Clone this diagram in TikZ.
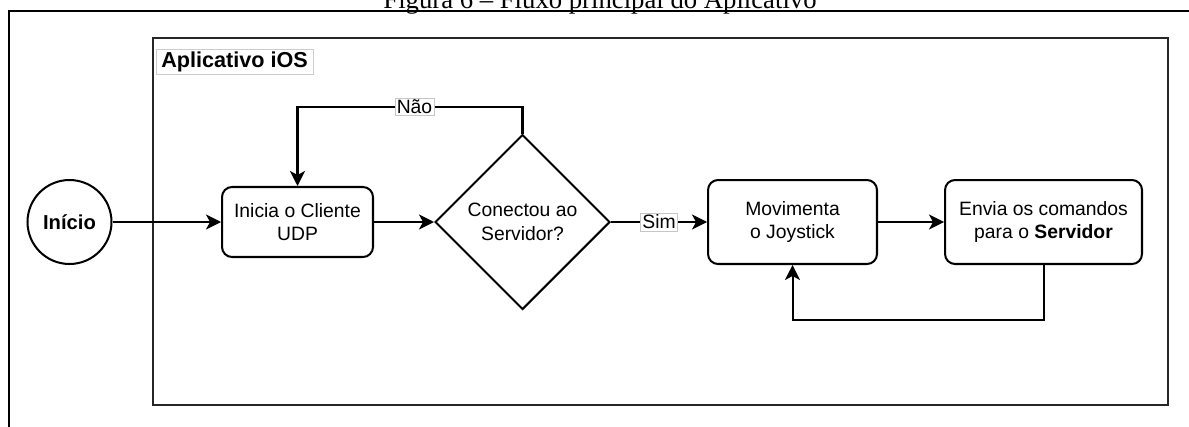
\documentclass[tikz,border=0pt]{standalone}
\usepackage{fontspec}
\setmainfont{Liberation Sans}
\newfontfamily\capfont{Liberation Serif}
\usetikzlibrary{shapes.geometric,arrows.meta}
\begin{document}
\begin{tikzpicture}[x=0.02cm,y=-0.02cm,
  every node/.style={font=\fontsize{11}{13.5}\selectfont, align=center},
  conn/.style={line width=1.15pt, -{Stealth[length=0.3cm,width=0.3cm,inset=0.08cm]}},
  plain/.style={line width=1.15pt},
  procbox/.style={draw, line width=1.15pt, rounded corners=0.2cm, inner sep=0pt},
  lbl/.style={draw=gray!45, line width=0.4pt, fill=white, inner sep=1pt, font=\fontsize{11}{13}\selectfont}
]
\useasboundingbox (0,0) rectangle (1189,426);
\clip (0,0) rectangle (1189,426);
% caption
\node[anchor=base, inner sep=0pt, font=\capfont\fontsize{15.2}{18}\selectfont] (cap) at (600,9) {Figura 6 – Fluxo principal do Aplicativo};
% outer frame
\draw[line width=0.9pt] (1250,11) -- (9,11) -- (9,480);
% inner frame
\draw[line width=1.4pt, draw=black!85] (153,38) rectangle (1168,405);
\node[draw=gray!40, line width=0.4pt, minimum width=3.14cm, minimum height=0.5cm, inner sep=0pt, font=\bfseries\fontsize{12.3}{14}\selectfont] (title) at (234.5,61.5) {Aplicativo iOS};
% nodes
\node[draw, circle, line width=1.15pt, minimum size=1.68cm, inner sep=0pt, font=\bfseries\fontsize{11.5}{13}\selectfont] (ini) at (69.5,222) {Início};
\node[procbox, minimum width=3.02cm, minimum height=1.4cm] (cli) at (297.5,222) {Inicia o Cliente\\UDP};
\node[draw, diamond, line width=1.15pt, minimum width=3.5cm, minimum height=3.5cm, inner sep=0pt] (dec) at (522.5,222) {Conectou ao\\Servidor?};
\node[procbox, minimum width=3.38cm, minimum height=1.68cm] (mov) at (792.5,222) {Movimenta\\o Joystick};
\node[procbox, minimum width=3.94cm, minimum height=1.68cm] (env) at (1043.5,222) {Envia os comandos\\para o \textbf{Servidor}};
% connectors
\draw[conn] (ini) -- (cli);
\draw[conn] (cli) -- (dec);
\draw[conn] (dec) -- node[lbl] (sim) {Sim} (mov);
\draw[conn] (mov) -- (env);
\coordinate (nA) at (522.5,107);
\coordinate (nB) at (297.5,107);
\draw[conn] (dec.north) -- (nA) -- node[lbl, pos=0.48] (nao) {Não} (nB) -- (cli.north);
\coordinate (lA) at (1043.5,320);
\coordinate (lB) at (792.5,320);
\draw[conn] (env.south) -- (lA) -- (lB) -- (mov.south);
\end{tikzpicture}
\end{document}
